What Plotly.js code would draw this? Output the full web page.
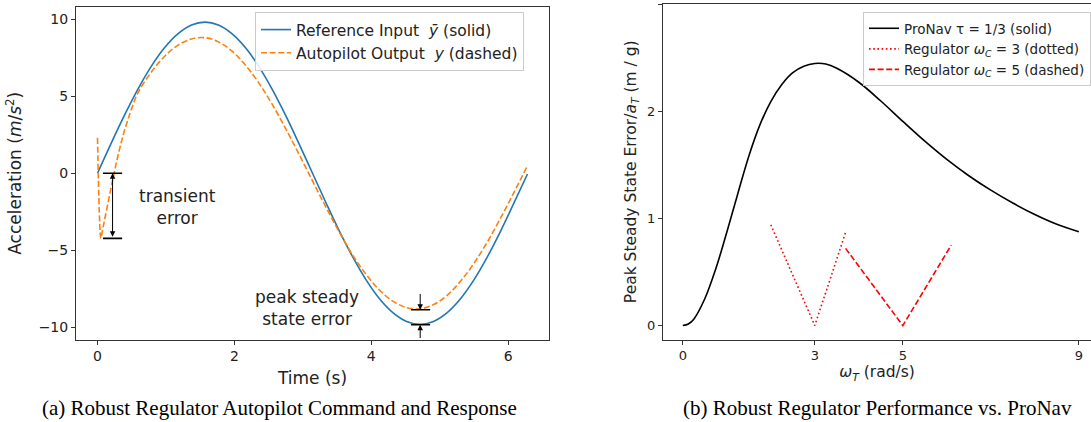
<!DOCTYPE html>
<html>
<head>
<meta charset="utf-8">
<script src="https://cdn.plot.ly/plotly-3.0.1.min.js"></script>
<style>html,body{margin:0;padding:0;background:#fff;}#chart{width:1091px;height:422px;}</style>
</head>
<body>
<div id="chart"></div>
<script>
// ---- (a) autopilot command and response ----
const timeRef = [0, 0.196, 0.393, 0.589, 0.785, 0.982, 1.178, 1.374, 1.571, 1.767, 1.963, 2.160, 2.356, 2.553, 2.749, 2.945, 3.142, 3.338, 3.534, 3.731, 3.927, 4.123, 4.320, 4.516, 4.712, 4.909, 5.105, 5.301, 5.498, 5.694, 5.890, 6.087, 6.283];
const accelRef = [0, 1.91, 3.75, 5.44, 6.93, 8.15, 9.05, 9.61, 9.80, 9.61, 9.05, 8.15, 6.93, 5.44, 3.75, 1.91, 0, -1.91, -3.75, -5.44, -6.93, -8.15, -9.05, -9.61, -9.80, -9.61, -9.05, -8.15, -6.93, -5.44, -3.75, -1.91, -0.05];
const timeOut = [0, 0.05, 0.065, 0.10, 0.15, 0.20, 0.25, 0.30, 0.35, 0.40, 0.45, 0.50, 0.589, 0.785, 0.982, 1.178, 1.374, 1.571, 1.767, 1.963, 2.160, 2.356, 2.553, 2.749, 2.945, 3.142, 3.338, 3.534, 3.731, 3.927, 4.123, 4.320, 4.516, 4.712, 4.909, 5.105, 5.301, 5.498, 5.694, 5.890, 6.087, 6.283];
const accelOut = [2.3, -4.22, -3.9, -3.1, -2.0, -0.9, 0.15, 1.15, 2.05, 2.85, 3.55, 4.2, 5.2, 6.55, 7.59, 8.31, 8.71, 8.79, 8.52, 7.93, 7.02, 5.86, 4.47, 2.90, 1.23, -0.50, -2.20, -3.82, -5.33, -6.57, -7.59, -8.31, -8.71, -8.79, -8.52, -7.93, -7.02, -5.86, -4.47, -2.90, -1.23, 0.50];
const transientT = [0.08, 0.36];      // marker bars of transient error
const transientLevels = [0, -4.22];
const transientArrowT = 0.22;
const peakT = [4.58, 4.86];
const peakLevels = [-8.85, -9.82];
const peakArrowT = 4.715;

// ---- (b) regulator performance vs ProNav ----
const omegaT = [0, 0.125, 0.25, 0.5, 0.75, 1.0, 1.25, 1.5, 1.75, 2.0, 2.25, 2.5, 2.75, 3.0, 3.25, 3.5, 4.0, 4.5, 5.0, 5.5, 6.0, 6.5, 7.0, 7.5, 8.0, 8.5, 9.0];
const proNavErr = [0, 0.015, 0.06, 0.25, 0.53, 0.87, 1.23, 1.58, 1.87, 2.09, 2.25, 2.36, 2.42, 2.445, 2.44, 2.40, 2.27, 2.095, 1.905, 1.72, 1.55, 1.398, 1.263, 1.143, 1.036, 0.945, 0.875];
const omegaReg3 = [2.0, 3.0, 3.7];
const reg3Err = [0.94, 0.0, 0.87];
const omegaReg5 = [3.7, 5.0, 6.1];
const reg5Err = [0.72, 0.0, 0.75];

const FONT = 'DejaVu Sans, sans-serif';
const INK = '#222';

const traces = [
  {x: timeRef, y: accelRef, xaxis: 'x', yaxis: 'y', mode: 'lines', name: 'Reference Input  <i>ȳ</i> (solid)',
   line: {color: '#1f77b4', width: 1.6, shape: 'spline', smoothing: 1}, legend: 'legend'},
  {x: timeOut, y: accelOut, xaxis: 'x', yaxis: 'y', mode: 'lines', name: 'Autopilot Output  <i>y</i> (dashed)',
   line: {color: '#ff7f0e', width: 1.6, dash: '6px,2.6px', shape: 'spline', smoothing: 1}, legend: 'legend'},
  {x: omegaT, y: proNavErr, xaxis: 'x2', yaxis: 'y2', mode: 'lines', name: 'ProNav τ = 1/3 (solid)',
   line: {color: '#000', width: 1.6, shape: 'spline', smoothing: 1}, legend: 'legend2'},
  {x: omegaReg3, y: reg3Err, xaxis: 'x2', yaxis: 'y2', mode: 'lines', name: 'Regulator <i>ω</i><sub><i>C</i></sub> = 3 (dotted)',
   line: {color: '#ff0000', width: 1.6, dash: '1.6px,2.6px'}, legend: 'legend2'},
  {x: omegaReg5, y: reg5Err, xaxis: 'x2', yaxis: 'y2', mode: 'lines', name: 'Regulator <i>ω</i><sub><i>C</i></sub> = 5 (dashed)',
   line: {color: '#ff0000', width: 1.6, dash: '6px,2.6px'}, legend: 'legend2'}
];

const shapes = [];
transientLevels.forEach(v => shapes.push({type: 'line', xref: 'x', yref: 'y', x0: transientT[0], x1: transientT[1], y0: v, y1: v, line: {color: '#000', width: 1.6}}));
peakLevels.forEach(v => shapes.push({type: 'line', xref: 'x', yref: 'y', x0: peakT[0], x1: peakT[1], y0: v, y1: v, line: {color: '#000', width: 1.6}}));

const annotations = [
  {xref: 'x', yref: 'y', x: transientArrowT, y: transientLevels[0], axref: 'x', ayref: 'y', ax: transientArrowT, ay: transientLevels[1],
   showarrow: true, arrowside: 'end+start', arrowhead: 2, arrowsize: 1.1, arrowwidth: 1, arrowcolor: '#000', text: '', standoff: 0, startstandoff: 0},
  {xref: 'x', yref: 'y', x: peakArrowT, y: peakLevels[0], axref: 'x', ayref: 'y', ax: peakArrowT, ay: -7.73,
   showarrow: true, arrowhead: 2, arrowsize: 1.1, arrowwidth: 1, arrowcolor: '#000', text: ''},
  {xref: 'x', yref: 'y', x: peakArrowT, y: peakLevels[1], axref: 'x', ayref: 'y', ax: peakArrowT, ay: -10.78,
   showarrow: true, arrowhead: 2, arrowsize: 1.1, arrowwidth: 1, arrowcolor: '#000', text: ''},
  {xref: 'x', yref: 'y', x: 1.176, y: -2.22, showarrow: false, text: 'transient<br>error', align: 'center',
   font: {family: FONT, size: 17, color: INK}},
  {xref: 'x', yref: 'y', x: 3.06, y: -8.71, showarrow: false, text: 'peak steady<br>state error', align: 'center',
   font: {family: FONT, size: 17, color: INK}},
  {xref: 'paper', yref: 'paper', x: 279/1091, y: 1 - 408/422, xanchor: 'center', yanchor: 'middle', showarrow: false,
   text: '(a) Robust Regulator Autopilot Command and Response', font: {family: 'Liberation Serif, Times New Roman, serif', size: 21, color: '#000'}},
  {xref: 'paper', yref: 'paper', x: 877/1091, y: 1 - 408/422, xanchor: 'center', yanchor: 'middle', showarrow: false,
   text: '(b) Robust Regulator Performance vs. ProNav', font: {family: 'Liberation Serif, Times New Roman, serif', size: 21, color: '#000'}}
];

const axBase = {showgrid: false, zeroline: false, showline: true, linecolor: '#333', linewidth: 1,
  ticks: 'outside', ticklen: 4, tickwidth: 1, tickcolor: '#333'};

const layout = {
  width: 1091, height: 422,
  margin: {l: 0, r: 0, t: 0, b: 0},
  paper_bgcolor: '#fff', plot_bgcolor: '#fff',
  font: {family: FONT, color: INK},
  xaxis: Object.assign({}, axBase, {domain: [76/1091, 549/1091], range: [-0.314, 6.597], anchor: 'y', mirror: true,
    tickvals: [0, 2, 4, 6], tickfont: {size: 14, family: FONT, color: INK},
    title: {text: 'Time (s)', font: {size: 17, family: FONT, color: INK}, standoff: 8}}),
  yaxis: Object.assign({}, axBase, {domain: [1 - 339.5/422, 1 - 7/422], range: [-10.78, 10.78], anchor: 'x', mirror: true,
    tickvals: [-10, -5, 0, 5, 10], tickfont: {size: 14, family: FONT, color: INK},
    title: {text: 'Acceleration (<i>m</i>/<i>s</i><sup>2</sup>)', font: {size: 17, family: FONT, color: INK}, standoff: 12}}),
  xaxis2: Object.assign({}, axBase, {domain: [663/1091, 1], range: [-0.45, 9.277], anchor: 'y2', mirror: true,
    tickvals: [0, 3, 5, 9], tickfont: {size: 13, family: FONT, color: INK},
    title: {text: '<i>ω</i><sub><i>T</i></sub> (rad/s)', font: {size: 15.5, family: FONT, color: INK}, standoff: 4}}),
  yaxis2: Object.assign({}, axBase, {domain: [1 - 339.5/422, 1 - 4/422], range: [-0.13, 3.0], anchor: 'x2', mirror: false,
    tickvals: [0, 1, 2, 3], tickfont: {size: 13, family: FONT, color: INK},
    title: {text: 'Peak Steady State Error/<i>a</i><sub><i>T</i></sub> (m / g)', font: {size: 15.5, family: FONT, color: INK}, standoff: 6}}),
  legend: {x: 255/1091, y: 1 - 12/422, xanchor: 'left', yanchor: 'top', bgcolor: 'rgba(255,255,255,0.85)',
    bordercolor: '#cccccc', borderwidth: 1, font: {size: 15.5, family: FONT, color: INK}, tracegroupgap: 0},
  legend2: {x: 863/1091, y: 1 - 12/422, xanchor: 'left', yanchor: 'top', bgcolor: 'rgba(255,255,255,0.85)',
    bordercolor: '#cccccc', borderwidth: 1, font: {size: 13.5, family: FONT, color: INK}, tracegroupgap: 0},
  shapes: shapes,
  annotations: annotations,
  showlegend: true
};

Plotly.newPlot('chart', traces, layout, {staticPlot: true, displayModeBar: false});
</script>
</body>
</html>
